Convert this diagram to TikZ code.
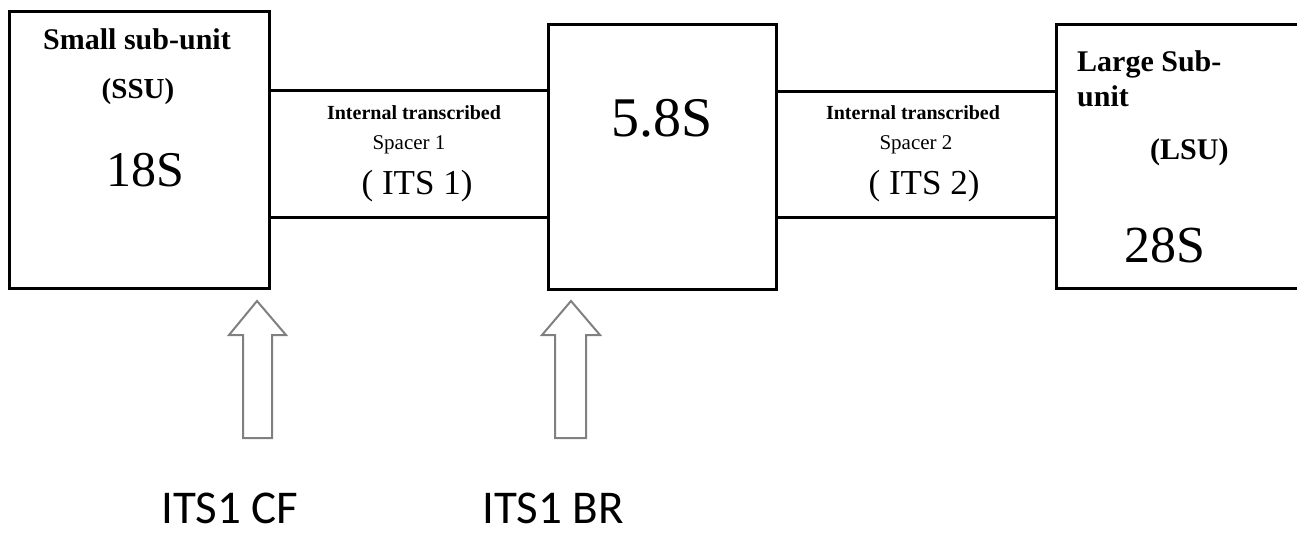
\documentclass[tikz,border=0pt]{standalone}
\usepackage{fontspec}
\setmainfont{Liberation Serif}
\newfontfamily\calibfont{Carlito}
\newcommand\fsz[1]{\fontsize{#1}{#1}\selectfont}
\begin{document}
\begin{tikzpicture}[x=1pt,y=-1pt,
  unitbox/.style={draw=black,line width=3pt},
  link/.style={draw=black,line width=3pt},
  txt/.style={inner sep=0pt,anchor=base},
  ltxt/.style={inner sep=0pt,anchor=base west},
  hollow/.style={draw=black!50,line width=2pt,fill=white,line join=miter},
  lab/.style={inner sep=0pt,anchor=base,font=\calibfont\fsz{47}}]
\useasboundingbox (0,0) rectangle (1297,537);
\clip (0,0) rectangle (1297,537);
% boxes
\node[unitbox,minimum width=260pt,minimum height=277pt,inner sep=0pt,anchor=north west] (ssu) at (8,10) {};
\node[unitbox,minimum width=228pt,minimum height=265pt,inner sep=0pt,anchor=north west] (r58) at (547,23) {};
\node[unitbox,minimum width=260pt,minimum height=264pt,inner sep=0pt,anchor=north west] (lsu) at (1055,23) {};
% spacer lines
\coordinate (a1) at (268,91);  \coordinate (a2) at (268,218);
\draw[link] (ssu.east |- a1) -- (r58.west |- a1);
\draw[link] (ssu.east |- a2) -- (r58.west |- a2);
\coordinate (b1) at (775,92);  \coordinate (b2) at (775,218);
\draw[link] (r58.east |- b1) -- (lsu.west |- b1);
\draw[link] (r58.east |- b2) -- (lsu.west |- b2);
% SSU texts
\node[txt,font=\bfseries\fsz{30}] (t1) at (137,50) {Small sub-unit};
\node[txt,font=\bfseries\fsz{29}] (t2) at (138,99) {(SSU)};
\node[txt,font=\fsz{50}] (t3) at (145,187) {18S};
% ITS1 texts
\node[txt,font=\bfseries\fsz{20}] (i1) at (414,120) {Internal transcribed};
\node[txt,font=\fsz{21}] (i2) at (409,150) {Spacer 1};
\node[txt,font=\fsz{35}] (i3) at (417,195) {( ITS 1)};
% 5.8S
\node[txt,font=\fsz{56}] (t58) at (662,137) {5.8S};
% ITS2 texts
\node[txt,font=\bfseries\fsz{20}] (j1) at (913,120) {Internal transcribed};
\node[txt,font=\fsz{21}] (j2) at (916,150) {Spacer 2};
\node[txt,font=\fsz{35}] (j3) at (924,195) {( ITS 2)};
% LSU texts
\node[ltxt,font=\bfseries\fsz{30}] (l1) at (1077,72) {Large Sub-};
\node[ltxt,font=\bfseries\fsz{30}] (l2) at (1077,107) {unit};
\node[ltxt,font=\bfseries\fsz{30}] (l3) at (1150,160) {(LSU)};
\node[txt,font=\fsz{52}] (l4) at (1165,262) {28S};
% hollow arrows
\draw[hollow] (257,301) -- (286,335) -- (272,335) -- (272,438) -- (243,438) -- (243,335) -- (229,335) -- cycle;
\draw[hollow] (571,301) -- (600,335) -- (586,335) -- (586,438) -- (555,438) -- (555,335) -- (542,335) -- cycle;
% labels
\node[lab] (cf) at (230,523) {ITS1 CF};
\node[lab] (br) at (553,523) {ITS1 BR};
\end{tikzpicture}
\end{document}
